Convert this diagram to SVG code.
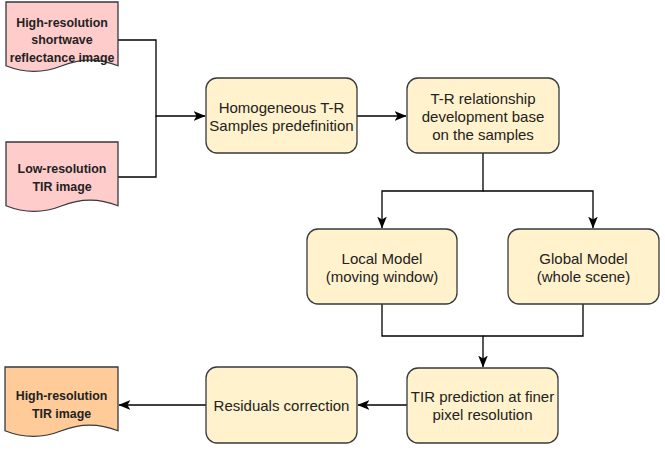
<svg xmlns="http://www.w3.org/2000/svg" width="665" height="454" viewBox="0 0 665 454">
<style>
.doc{fill:#ffcccc;stroke:#36393d;stroke-width:1.3}
.out{fill:#ffcc99;stroke:#36393d;stroke-width:1.3}
.box{fill:#fff2cc;stroke:#36393d;stroke-width:1.3}
.t{font-family:"Liberation Sans",Arial,sans-serif;font-size:15px;fill:#222;text-anchor:middle}
.b{font-family:"Liberation Sans",Arial,sans-serif;font-size:12.4px;font-weight:bold;fill:#222;text-anchor:middle}
.c{fill:none;stroke:#000;stroke-width:1.3}
.a{marker-end:url(#ah)}
</style>
<defs>
<marker id="ah" markerUnits="userSpaceOnUse" markerWidth="12" markerHeight="12" viewBox="0 0 10 10" refX="9.5" refY="5" orient="auto">
<path d="M0,1 L10,5 L0,9 L2.5,5 Z" fill="#000"/>
</marker>
</defs>
<rect width="665" height="454" fill="#fff"/>
<g id="connectors">
<path class="c a" d="M118,40 H156 V116 H205"/>
<path class="c" d="M118,177 H156 V116"/>
<path class="c a" d="M357,116 H406"/>
<path class="c a" d="M483,153 V191 H382 V228"/>
<path class="c a" d="M483,191 H593 V228"/>
<path class="c a" d="M382,304 V336 H483 V367"/>
<path class="c" d="M583,304 V336 H483"/>
<path class="c a" d="M407,405 H358"/>
<path class="c a" d="M206,405 H119"/>
</g>
<g id="doc-hr-shortwave">
<path class="doc" d="M6,2 H118 V65.75 Q90,54.5 62,65.75 Q34,77 6,65.75 Z"/>
<text class="b" x="62" y="26.5">High-resolution</text>
<text class="b" x="62" y="44">shortwave</text>
<text class="b" x="62" y="61.5">reflectance image</text>
</g>
<g id="doc-lr-tir">
<path class="doc" d="M6,142 H118 V205.75 Q90,194.5 62,205.75 Q34,217 6,205.75 Z"/>
<text class="b" x="62" y="172.5">Low-resolution</text>
<text class="b" x="62" y="190.5">TIR image</text>
</g>
<g id="doc-hr-tir">
<path class="out" d="M5,367 H118 V430.75 Q89.75,419.5 61.5,430.75 Q33.25,442 5,430.75 Z"/>
<text class="b" x="61.5" y="399.5">High-resolution</text>
<text class="b" x="61.5" y="417.5">TIR image</text>
</g>
<g id="box-homogeneous">
<rect class="box" x="206" y="78" width="151" height="75" rx="11"/>
<text class="t" x="281.5" y="113">Homogeneous T-R</text>
<text class="t" x="281.5" y="131">Samples predefinition</text>
</g>
<g id="box-relationship">
<rect class="box" x="407" y="78" width="152" height="75" rx="11"/>
<text class="t" x="483" y="104">T-R relationship</text>
<text class="t" x="483" y="122">development base</text>
<text class="t" x="483" y="139.5">on the samples</text>
</g>
<g id="box-local">
<rect class="box" x="307" y="229" width="150" height="75" rx="11"/>
<text class="t" x="382" y="264">Local Model</text>
<text class="t" x="382" y="282">(moving window)</text>
</g>
<g id="box-global">
<rect class="box" x="508" y="229" width="151" height="75" rx="11"/>
<text class="t" x="583.5" y="264">Global Model</text>
<text class="t" x="583.5" y="282">(whole scene)</text>
</g>
<g id="box-tir-prediction">
<rect class="box" x="407" y="368" width="151" height="75" rx="11"/>
<text class="t" x="482.5" y="402">TIR prediction at finer</text>
<text class="t" x="482.5" y="420">pixel resolution</text>
</g>
<g id="box-residuals">
<rect class="box" x="206" y="367" width="151" height="76" rx="11"/>
<text class="t" x="281.5" y="411">Residuals correction</text>
</g>
</svg>
